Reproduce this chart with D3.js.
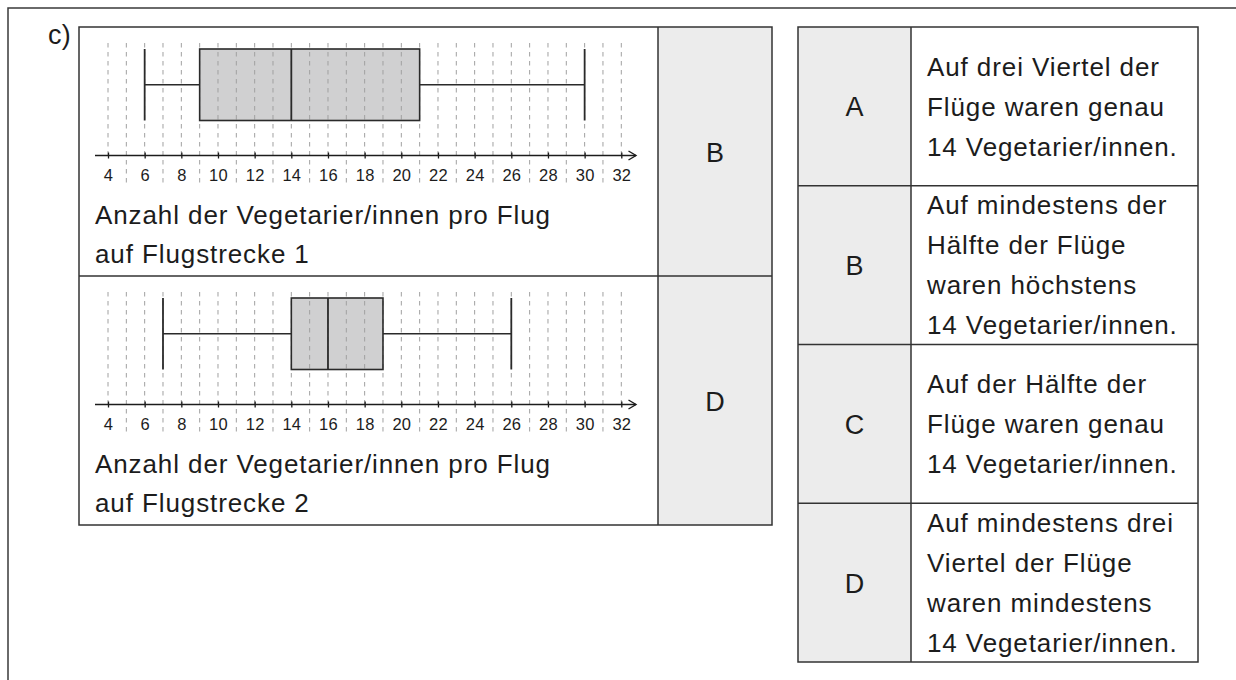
<!DOCTYPE html>
<html><head><meta charset="utf-8">
<script src="https://cdn.jsdelivr.net/npm/d3@7"></script>
<style>
body{margin:0;background:#fff}
svg{display:block}
text{font-family:"Liberation Sans",Arial,Helvetica,sans-serif;fill:#1c1c1c}
</style>
</head><body><svg id="chart" width="1236" height="680"></svg>
<script>
// ---- data ----
const routeCaptions = ["auf Flugstrecke 1", "auf Flugstrecke 2"];
const captionLine1 = "Anzahl der Vegetarier/innen pro Flug";
const minValues    = [6, 7];
const q1Values     = [9, 14];
const medianValues = [14, 16];
const q3Values     = [21, 19];
const maxValues    = [30, 26];
const answerLetters = ["B", "D"];
const tickValues = [4, 6, 8, 10, 12, 14, 16, 18, 20, 22, 24, 26, 28, 30, 32];
const gridValues = [4, 5, 6, 7, 8, 9, 10, 11, 12, 13, 14, 15, 16, 17, 18, 19, 20, 21, 22, 23, 24, 25, 26, 27, 28, 29, 30, 31, 32];
const optionLetters = ["A", "B", "C", "D"];
const optionLines = [
  ["Auf drei Viertel der", "Flüge waren genau", "14 Vegetarier/innen."],
  ["Auf mindestens der", "Hälfte der Flüge", "waren höchstens", "14 Vegetarier/innen."],
  ["Auf der Hälfte der", "Flüge waren genau", "14 Vegetarier/innen."],
  ["Auf mindestens drei", "Viertel der Flüge", "waren mindestens", "14 Vegetarier/innen."]
];
const partLabel = "c)";

// ---- layout ----
const svg = d3.select("#chart");
const lineCol = "#333";
const cellFill = "#ececec";
const boxFill = "#d0d0d1";
const bigFont = 26, bigSpacing = 0.9, letterFont = 27;

// outer frame
svg.append("path").attr("d", "M8,680 L8,8 L1236,8")
  .attr("fill", "none").attr("stroke", "#3a3a3a").attr("stroke-width", 1.5);

svg.append("text").attr("x", 48).attr("y", 44).attr("font-size", 27)
  .attr("letter-spacing", 0.3).text(partLabel);

// left table
const LT = {x0: 79, xDiv: 658, x1: 772, y0: 27, y1: 525};
const rowH = (LT.y1 - LT.y0) / 2;
const rowTops = d3.range(2).map(i => LT.y0 + i * rowH);

svg.append("rect").attr("x", LT.xDiv).attr("y", LT.y0)
  .attr("width", LT.x1 - LT.xDiv).attr("height", LT.y1 - LT.y0).attr("fill", cellFill);

const x = d3.scaleLinear().domain([4, 32]).range([108, 621.3]);

const off = {gridTop: 16, boxTop: 22, boxBot: 93.5, axis: 128.5, label: 25, gridBotExtra: 29, cap1: 197, cap2: 235.8};

rowTops.forEach((top, i) => {
  const g = svg.append("g");
  const axisY = top + off.axis;
  const bt = top + off.boxTop, bb = top + off.boxBot, mid = (bt + bb) / 2;

  // box fill under grid
  g.append("rect").attr("x", x(q1Values[i])).attr("y", bt)
    .attr("width", x(q3Values[i]) - x(q1Values[i])).attr("height", bb - bt)
    .attr("fill", boxFill);

  // dashed grid
  g.selectAll("line.grid").data(gridValues).join("line").attr("class", "grid")
    .attr("x1", d => x(d)).attr("x2", d => x(d))
    .attr("y1", top + off.gridTop)
    .attr("y2", d => d % 2 === 0 ? axisY : axisY + off.gridBotExtra)
    .attr("stroke", "#a0a0a0").attr("stroke-width", 1)
    .attr("stroke-dasharray", "4.5,4.5");

  // box outline & median
  g.append("rect").attr("x", x(q1Values[i])).attr("y", bt)
    .attr("width", x(q3Values[i]) - x(q1Values[i])).attr("height", bb - bt)
    .attr("fill", "none").attr("stroke", "#2a2a2a").attr("stroke-width", 1.6);
  g.append("line").attr("x1", x(medianValues[i])).attr("x2", x(medianValues[i]))
    .attr("y1", bt).attr("y2", bb).attr("stroke", "#2a2a2a").attr("stroke-width", 1.8);
  // whiskers
  g.append("line").attr("x1", x(minValues[i])).attr("x2", x(q1Values[i]))
    .attr("y1", mid).attr("y2", mid).attr("stroke", "#2a2a2a").attr("stroke-width", 1.4);
  g.append("line").attr("x1", x(q3Values[i])).attr("x2", x(maxValues[i]))
    .attr("y1", mid).attr("y2", mid).attr("stroke", "#2a2a2a").attr("stroke-width", 1.4);
  [minValues[i], maxValues[i]].forEach(v => {
    g.append("line").attr("x1", x(v)).attr("x2", x(v)).attr("y1", bt).attr("y2", bb)
      .attr("stroke", "#2a2a2a").attr("stroke-width", 1.8);
  });

  // axis
  const ax = g.append("g").attr("transform", `translate(0,${axisY})`)
    .call(d3.axisBottom(x).tickValues(tickValues).tickSize(0).tickFormat(d3.format("d")));
  ax.select(".domain").remove();
  ax.selectAll(".tick line").attr("y1", -3).attr("y2", 3).attr("stroke", "#1c1c1c").attr("stroke-width", 1.3);
  ax.selectAll(".tick text").attr("y", off.label).attr("dy", 0)
    .attr("font-size", 16.5).attr("letter-spacing", 0.2)
    .attr("fill", "#1c1c1c");
  ax.attr("font-family", null).attr("font-size", null);
  g.append("line").attr("x1", 95).attr("x2", 636).attr("y1", axisY).attr("y2", axisY)
    .attr("stroke", "#1c1c1c").attr("stroke-width", 1.6);
  g.append("path").attr("d", `M628.5,${axisY - 4.5} L636,${axisY} L628.5,${axisY + 4.5}`)
    .attr("fill", "none").attr("stroke", "#1c1c1c").attr("stroke-width", 1.4);

  // captions
  g.append("text").attr("x", 95).attr("y", top + off.cap1).attr("font-size", bigFont)
    .attr("letter-spacing", bigSpacing).text(captionLine1);
  g.append("text").attr("x", 95).attr("y", top + off.cap2).attr("font-size", bigFont)
    .attr("letter-spacing", bigSpacing).text(routeCaptions[i]);

  // answer letter
  g.append("text").attr("x", (LT.xDiv + LT.x1) / 2).attr("y", top + rowH / 2 + 10)
    .attr("text-anchor", "middle").attr("font-size", letterFont).text(answerLetters[i]);
});

// left table borders
svg.append("rect").attr("x", LT.x0).attr("y", LT.y0).attr("width", LT.x1 - LT.x0)
  .attr("height", LT.y1 - LT.y0).attr("fill", "none").attr("stroke", lineCol).attr("stroke-width", 1.5);
svg.append("line").attr("x1", LT.xDiv).attr("x2", LT.xDiv).attr("y1", LT.y0).attr("y2", LT.y1)
  .attr("stroke", lineCol).attr("stroke-width", 1.5);
svg.append("line").attr("x1", LT.x0).attr("x2", LT.x1).attr("y1", LT.y0 + rowH).attr("y2", LT.y0 + rowH)
  .attr("stroke", lineCol).attr("stroke-width", 1.5);

// right table
const RT = {x0: 798, xDiv: 911, x1: 1198, y0: 27, y1: 662};
const y = d3.scaleBand().domain(optionLetters).range([RT.y0, RT.y1]).padding(0);
svg.append("rect").attr("x", RT.x0).attr("y", RT.y0).attr("width", RT.xDiv - RT.x0)
  .attr("height", RT.y1 - RT.y0).attr("fill", cellFill);
const lineGap = 40;
optionLetters.forEach((L, i) => {
  const cy = y(L) + y.bandwidth() / 2;
  svg.append("text").attr("x", (RT.x0 + RT.xDiv) / 2).attr("y", cy + 10)
    .attr("text-anchor", "middle").attr("font-size", letterFont).text(L);
  const lines = optionLines[i];
  lines.forEach((t, j) => {
    svg.append("text").attr("x", 927)
      .attr("y", cy + 9.3 + (j - (lines.length - 1) / 2) * lineGap)
      .attr("font-size", bigFont).attr("letter-spacing", bigSpacing).text(t);
  });
  if (i > 0) {
    svg.append("line").attr("x1", RT.x0).attr("x2", RT.x1).attr("y1", y(L)).attr("y2", y(L))
      .attr("stroke", lineCol).attr("stroke-width", 1.5);
  }
});
svg.append("rect").attr("x", RT.x0).attr("y", RT.y0).attr("width", RT.x1 - RT.x0)
  .attr("height", RT.y1 - RT.y0).attr("fill", "none").attr("stroke", lineCol).attr("stroke-width", 1.5);
svg.append("line").attr("x1", RT.xDiv).attr("x2", RT.xDiv).attr("y1", RT.y0).attr("y2", RT.y1)
  .attr("stroke", lineCol).attr("stroke-width", 1.5);
</script>
</body></html>
